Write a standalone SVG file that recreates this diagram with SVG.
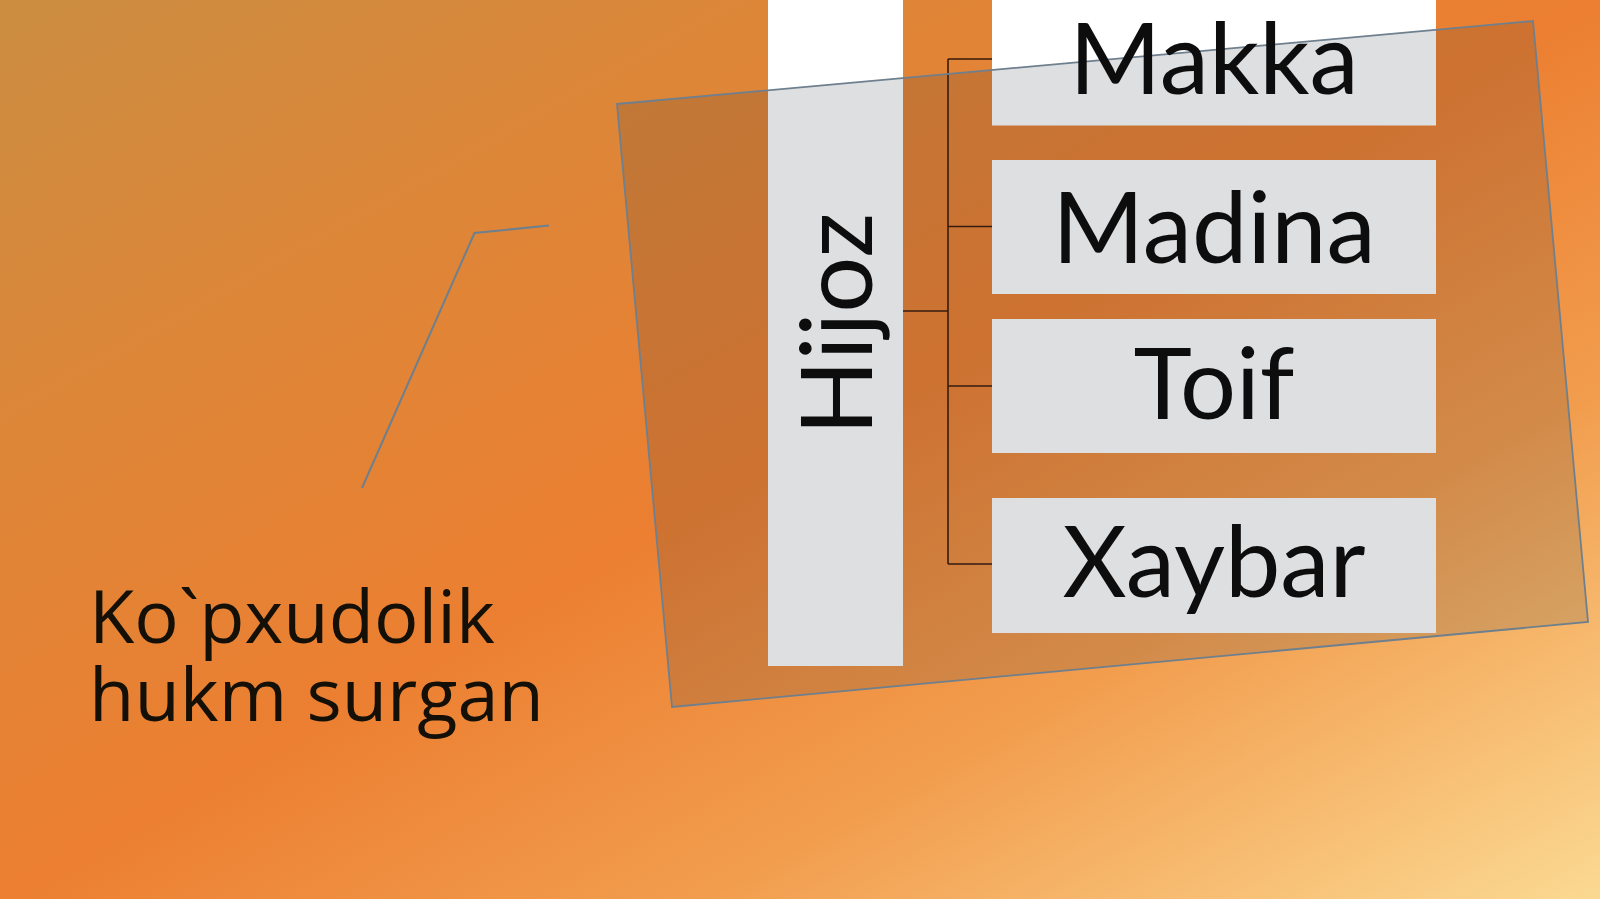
<svg xmlns="http://www.w3.org/2000/svg" width="1600" height="899" viewBox="0 0 1600 899">
<defs>
<linearGradient id="bg" x1="0" y1="0" x2="1" y2="1">
<stop offset="0" stop-color="#cb8d41"/>
<stop offset="0.25" stop-color="#dd8638"/>
<stop offset="0.5" stop-color="#ec7f31"/>
<stop offset="0.72" stop-color="#f29d4e"/>
<stop offset="1" stop-color="#fbd992"/>
</linearGradient>
<style>
.box{fill:#ffffff}
.lbl{font-family:Lato,"Liberation Sans",sans-serif;font-size:99px;fill:#0d0d0d;text-anchor:middle}
.conn{stroke:#3a1a08;stroke-width:1.6;fill:none}
.lead{stroke:#6e7f8e;stroke-width:2;fill:none}
.side{font-family:"Open Sans","Noto Sans",sans-serif;font-size:74px;fill:#141008}
</style>
</defs>
<rect width="1600" height="899" fill="url(#bg)"/>
<g id="hijoz"><rect class="box" x="768" y="0" width="135" height="666"/></g>
<g id="makka"><rect class="box" x="992" y="-10" width="444" height="135.5"/></g>
<g id="madina"><rect class="box" x="992" y="160" width="444" height="134"/></g>
<g id="toif"><rect class="box" x="992" y="319" width="444" height="134"/></g>
<g id="xaybar"><rect class="box" x="992" y="498" width="444" height="135"/></g>
<g id="connectors">
<path class="conn" d="M903 311H948M948 59V564M948 59H992M948 226.5H992M948 386H992M948 564H992"/>
<polyline class="lead" points="362,488 474.5,233 549,225.5"/>
</g>
<g id="frame"><polygon points="617,104 1533,21 1588,622 672,707" fill="#1f2a36" fill-opacity="0.15" stroke="#6e7f8e" stroke-width="1.8"/></g>
<g id="labels">
<text class="lbl" x="1214" y="94">Makka</text>
<text class="lbl" x="1214" y="263">Madina</text>
<text class="lbl" x="1214" y="419">Toif</text>
<text class="lbl" x="1214" y="597">Xaybar</text>
<text class="lbl" transform="translate(872,324) rotate(-90)">Hijoz</text>
</g>
<g id="side-text">
<text class="side" x="89" y="643">Ko`pxudolik</text>
<text class="side" x="89" y="721">hukm surgan</text>
</g>
</svg>
